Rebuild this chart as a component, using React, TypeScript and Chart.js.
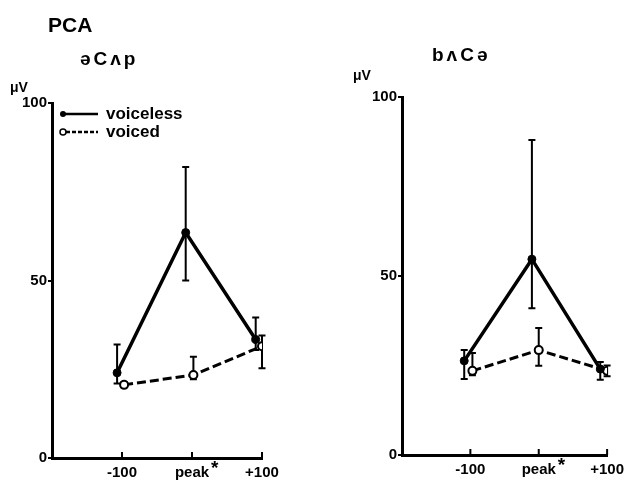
import React, { useEffect, useRef } from 'react';
import { Chart, registerables } from 'chart.js';

Chart.register(...registerables);

// ---------- data ----------
const figureTitle = 'PCA';
const panelTitles = ['əCʌp', 'bʌCə'];
const yUnit = 'μV';
const seriesNames = ['voiceless', 'voiced'];
const xTickValues = [-100, 0, 100];
const xTickLabels = ['-100', 'peak', '+100'];
const yTickValues = [0, 50, 100];

// left panel (əCʌp)
const leftVoicelessX = [-107, -9, 91];
const leftVoicelessMean = [24, 63.5, 33.4];
const leftVoicelessLow = [21, 50, 30.4];
const leftVoicelessHigh = [32, 82, 39.6];
const leftVoicedX = [-97, 2, 100];
const leftVoicedMean = [20.6, 23.4, 31.5];
const leftVoicedLow = [20, 22.2, 25.3];
const leftVoicedHigh = [21.4, 28.5, 34.5];

// right panel (bʌCə)
const rightVoicelessX = [-109, -10, 90];
const rightVoicelessMean = [26.3, 54.7, 24];
const rightVoicelessLow = [21.2, 41, 21];
const rightVoicelessHigh = [29.3, 88, 26];
const rightVoicedX = [-97, 0, 100];
const rightVoicedMean = [23.5, 29.3, 23.5];
const rightVoicedLow = [22.3, 24.9, 22];
const rightVoicedHigh = [28.5, 35.5, 25];

const FONT = '"Liberation Sans", Arial, "DejaVu Sans", sans-serif';

type Series = { x: number[]; mean: number[]; low: number[]; high: number[] };

type PanelLayout = {
  width: number;
  padTop: number;
  padRight: number;
  yAxisWidth: number;
  xAxisHeight: number;
  showFigureTitle: boolean;
  showLegend: boolean;
  titleX: number;
  titleY: number;
  unitX: number;
  unitY: number;
};

function makeChart(canvas: HTMLCanvasElement, series: Series[], title: string, L: PanelLayout) {
  const decor = {
    id: 'decor',
    beforeDatasetsDraw(chart: any) {
      const ctx = chart.ctx as CanvasRenderingContext2D;
      const xs = chart.scales.x;
      const ys = chart.scales.y;
      ctx.save();
      ctx.strokeStyle = '#000';
      ctx.lineWidth = 2;
      ctx.lineCap = 'butt';
      series.forEach((s) => {
        s.x.forEach((xv, i) => {
          const px = xs.getPixelForValue(xv);
          const pl = ys.getPixelForValue(s.low[i]);
          const ph = ys.getPixelForValue(s.high[i]);
          ctx.beginPath();
          ctx.moveTo(px, pl);
          ctx.lineTo(px, ph);
          ctx.moveTo(px - 3.5, pl);
          ctx.lineTo(px + 3.5, pl);
          ctx.moveTo(px - 3.5, ph);
          ctx.lineTo(px + 3.5, ph);
          ctx.stroke();
        });
      });
      ctx.restore();
    },
    afterDraw(chart: any) {
      const ctx = chart.ctx as CanvasRenderingContext2D;
      const xs = chart.scales.x;
      const area = chart.chartArea;
      ctx.save();
      ctx.fillStyle = '#000';
      ctx.strokeStyle = '#000';
      // upward x ticks
      ctx.lineWidth = 2;
      xTickValues.forEach((v) => {
        const px = xs.getPixelForValue(v);
        ctx.beginPath();
        ctx.moveTo(px, area.bottom);
        ctx.lineTo(px, area.bottom - 6);
        ctx.stroke();
      });
      // asterisk after "peak"
      ctx.font = `bold 15px ${FONT}`;
      const pw = ctx.measureText(xTickLabels[1]).width;
      ctx.textBaseline = 'alphabetic';
      ctx.textAlign = 'left';
      ctx.font = `bold 19px ${FONT}`;
      ctx.fillText('*', xs.getPixelForValue(0) + pw / 2 + 2, area.bottom + 16);
      // titles
      (ctx as any).letterSpacing = '0px';
      if (L.showFigureTitle) {
        ctx.font = `bold 21px ${FONT}`;
        ctx.fillText(figureTitle, 48, 32);
      }
      ctx.font = `bold 19px ${FONT}`;
      (ctx as any).letterSpacing = '3px';
      ctx.fillText(title, L.titleX, L.titleY);
      (ctx as any).letterSpacing = '0px';
      ctx.font = `bold 14px ${FONT}`;
      ctx.fillText(yUnit, L.unitX, L.unitY);
      if (L.showLegend) {
        ctx.lineWidth = 2.5;
        // voiceless
        ctx.beginPath();
        ctx.moveTo(63, 114);
        ctx.lineTo(98, 114);
        ctx.stroke();
        ctx.beginPath();
        ctx.arc(63, 114, 3, 0, Math.PI * 2);
        ctx.fill();
        // voiced
        ctx.setLineDash([4, 2]);
        ctx.beginPath();
        ctx.moveTo(66, 132);
        ctx.lineTo(98, 132);
        ctx.stroke();
        ctx.setLineDash([]);
        ctx.lineWidth = 1.5;
        ctx.beginPath();
        ctx.arc(63, 132, 3, 0, Math.PI * 2);
        ctx.fillStyle = '#fff';
        ctx.fill();
        ctx.stroke();
        ctx.fillStyle = '#000';
        ctx.font = `bold 17px ${FONT}`;
        ctx.fillText(seriesNames[0], 106, 119);
        ctx.fillText(seriesNames[1], 106, 137);
      }
      ctx.restore();
    },
  };

  const tickFont = { family: FONT, size: 15, weight: 'bold' as const };

  return new Chart(canvas, {
    type: 'scatter',
    data: {
      datasets: [
        {
          label: seriesNames[0],
          data: series[0].x.map((x, i) => ({ x, y: series[0].mean[i] })),
          showLine: true,
          borderColor: '#000',
          borderWidth: 3.5,
          pointRadius: 4,
          pointBackgroundColor: '#000',
          pointBorderColor: '#000',
          pointBorderWidth: 1,
        },
        {
          label: seriesNames[1],
          data: series[1].x.map((x, i) => ({ x, y: series[1].mean[i] })),
          showLine: true,
          borderColor: '#000',
          borderWidth: 3,
          borderDash: [9, 4],
          pointRadius: 4,
          pointBackgroundColor: '#fff',
          pointBorderColor: '#000',
          pointBorderWidth: 2,
        },
      ],
    },
    options: {
      animation: false,
      responsive: false,
      devicePixelRatio: 1,
      layout: { padding: { left: 0, right: L.padRight, top: L.padTop, bottom: 0 } },
      plugins: { legend: { display: false }, tooltip: { enabled: false }, title: { display: false } },
      scales: {
        x: {
          type: 'linear',
          min: -200,
          max: 100,
          afterBuildTicks: (s: any) => {
            s.ticks = xTickValues.map((v) => ({ value: v }));
          },
          afterFit: (s: any) => {
            s.height = L.xAxisHeight;
          },
          grid: { display: false, drawOnChartArea: false, drawTicks: false },
          border: { display: true, color: '#000', width: 3 },
          ticks: {
            color: '#000',
            font: tickFont,
            padding: 6,
            maxRotation: 0,
            autoSkip: false,
            callback: (v: any) => xTickLabels[xTickValues.indexOf(Number(v))] ?? '',
          },
        },
        y: {
          type: 'linear',
          min: 0,
          max: 100,
          afterBuildTicks: (s: any) => {
            s.ticks = yTickValues.map((v) => ({ value: v }));
          },
          afterFit: (s: any) => {
            s.width = L.yAxisWidth;
          },
          grid: { display: true, drawOnChartArea: false, drawTicks: true, tickLength: 4, color: '#000', lineWidth: 2 },
          border: { display: true, color: '#000', width: 3 },
          ticks: { color: '#000', font: tickFont, padding: 1 },
        },
      },
    },
    plugins: [decor],
  });
}

export default function App() {
  const leftRef = useRef<HTMLCanvasElement>(null);
  const rightRef = useRef<HTMLCanvasElement>(null);

  useEffect(() => {
    const left = makeChart(
      leftRef.current!,
      [
        { x: leftVoicelessX, mean: leftVoicelessMean, low: leftVoicelessLow, high: leftVoicelessHigh },
        { x: leftVoicedX, mean: leftVoicedMean, low: leftVoicedLow, high: leftVoicedHigh },
      ],
      panelTitles[0],
      {
        width: 320,
        padTop: 103,
        padRight: 58,
        yAxisWidth: 52,
        xAxisHeight: 22,
        showFigureTitle: true,
        showLegend: true,
        titleX: 80,
        titleY: 65,
        unitX: 10,
        unitY: 92,
      }
    );
    const right = makeChart(
      rightRef.current!,
      [
        { x: rightVoicelessX, mean: rightVoicelessMean, low: rightVoicelessLow, high: rightVoicelessHigh },
        { x: rightVoicedX, mean: rightVoicedMean, low: rightVoicedLow, high: rightVoicedHigh },
      ],
      panelTitles[1],
      {
        width: 310,
        padTop: 97,
        padRight: 17,
        yAxisWidth: 82,
        xAxisHeight: 25,
        showFigureTitle: false,
        showLegend: false,
        titleX: 112,
        titleY: 61,
        unitX: 33,
        unitY: 80,
      }
    );
    return () => {
      left.destroy();
      right.destroy();
    };
  }, []);

  return (
    <div style={{ position: 'fixed', left: 0, top: 0, width: 630, height: 480, background: '#fff' }}>
      <canvas ref={leftRef} width={320} height={480} style={{ position: 'absolute', left: 0, top: 0 }} />
      <canvas ref={rightRef} width={310} height={480} style={{ position: 'absolute', left: 320, top: 0 }} />
    </div>
  );
}
